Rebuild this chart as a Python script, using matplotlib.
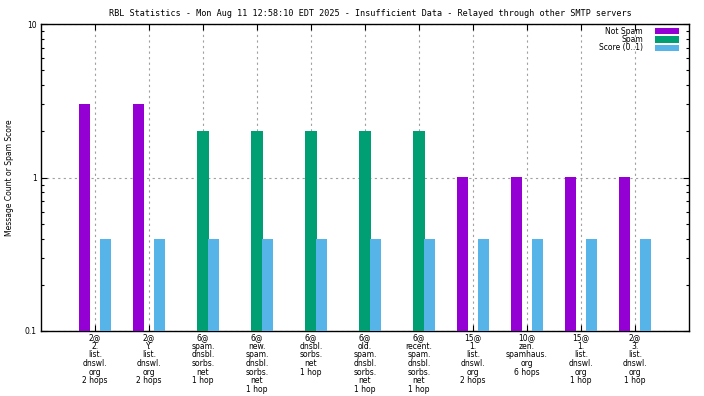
import numpy as np
import matplotlib
matplotlib.use("Agg")
import matplotlib.pyplot as plt
from matplotlib.patches import Rectangle

# data
counts  = ["2@", "2@", "6@", "6@", "6@", "6@", "6@", "15@", "10@", "15@", "2@"]
hosts   = ["2.list.dnswl.org", "Y.list.dnswl.org", "spam.dnsbl.sorbs.net",
           "new.spam.dnsbl.sorbs.net", "dnsbl.sorbs.net", "old.spam.dnsbl.sorbs.net",
           "recent.spam.dnsbl.sorbs.net", "1.list.dnswl.org", "zen.spamhaus.org",
           "1.list.dnswl.org", "3.list.dnswl.org"]
hops    = ["2 hops", "2 hops", "1 hop", "1 hop", "1 hop", "1 hop", "1 hop",
           "2 hops", "6 hops", "1 hop", "1 hop"]
not_spam = [3, 3, 0, 0, 0, 0, 0, 1, 1, 1, 1]
spam     = [0, 0, 2, 2, 2, 2, 2, 0, 0, 0, 0]
score    = [0.4] * 11

series = [("Not Spam", not_spam, "#9400d3"),
          ("Spam", spam, "#009e73"),
          ("Score (0..1)", score, "#56b4e9")]

title = "RBL Statistics - Mon Aug 11 12:58:10 EDT 2025 - Insufficient Data - Relayed through other SMTP servers"

plt.rcParams['font.family'] = ['DejaVu Sans']
FS = 5.5

fig = plt.figure(figsize=(7.04, 3.96), dpi=100)
ax = fig.add_axes([41/704, 65/396, 648/704, 307/396])

x = np.arange(len(hosts))
width = 0.21
offsets = [-0.2, 0.0, 0.2]
for (name, vals, col), off in zip(series, offsets):
    vals = np.array(vals, dtype=float)
    m = vals > 0
    ax.bar(x[m] + off, vals[m], width=width, bottom=0.0001, color=col, zorder=3, linewidth=0)

ax.set_yscale("log")
ax.set_ylim(0.1, 10)
ax.set_xlim(-1, 11)

labels = []
for c, h, hp in zip(counts, hosts, hops):
    parts = [p + "." for p in h.split(".")]
    parts[-1] = parts[-1][:-1]
    labels.append("\n".join([c] + parts + [hp]))
ax.set_xticks(x)
ax.set_xticklabels(labels, fontsize=FS, linespacing=0.95, multialignment="center")

ax.set_yticks([0.1, 1, 10])
ax.set_yticklabels(["0.1", "1", "10"], fontsize=FS)

ax.tick_params(axis="both", which="major", direction="in", length=4.5, width=0.8,
               top=True, right=True, pad=3)
ax.tick_params(axis="x", which="major", pad=1.5)
ax.tick_params(axis="y", which="minor", direction="in", length=2.5, width=0.8, right=True)
ax.tick_params(axis="x", which="minor", bottom=False, top=False)

ax.grid(True, which="major", color="#a0a0a0", linestyle=(0, (2, 3)), linewidth=0.8, zorder=0)
for s in ax.spines.values():
    s.set_linewidth(1.0)

ax.set_ylabel("Message Count or Spam Score", fontsize=FS, labelpad=8)
fig.text(370/704, 1 - 13/396, title, fontsize=6.15, family="DejaVu Sans Mono",
         ha="center", va="center")

# legend, gnuplot style: text right-aligned, sample box on the right
rows = [0.977, 0.9495, 0.922]
for (name, vals, col), ry in zip(series, rows):
    ax.text(0.929, ry, name, transform=ax.transAxes, ha="right", va="center", fontsize=FS)
    ax.add_patch(Rectangle((0.9475, ry - 0.0098), 0.037, 0.0196, transform=ax.transAxes,
                           facecolor=col, edgecolor="none", zorder=5))

fig.savefig("out.png", dpi=100)
